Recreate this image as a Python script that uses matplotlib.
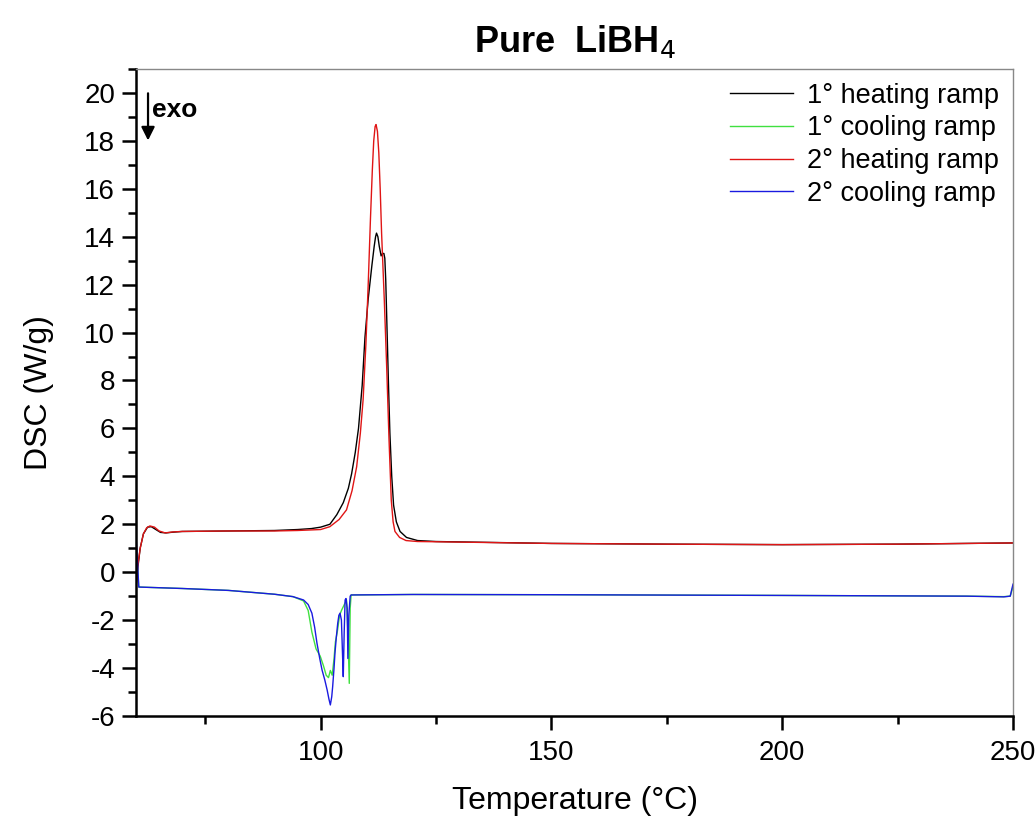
import numpy as np
import matplotlib
matplotlib.use('Agg')
import matplotlib.pyplot as plt
from matplotlib.ticker import MultipleLocator

plt.rcParams['font.family'] = ['Liberation Sans', 'DejaVu Sans']
plt.rcParams['axes.unicode_minus'] = False

# 1st heating ramp (black)
t_heat1 = [60, 60.4, 60.9, 61.6, 62.5, 63.3, 64.3, 65.3, 66.5, 68, 70, 80, 90, 95, 98,
           100, 102, 103.5, 104.9, 106, 106.7, 107.5, 108.2, 109, 109.6, 110.3, 111.1,
           111.6, 111.9, 112.1, 112.4, 112.7, 113.1, 113.4, 113.7, 113.9, 114.1, 114.4,
           114.7, 115.0, 115.4, 115.8, 116.4, 117.2, 118.6, 121, 125, 150, 175, 200, 225, 250]
dsc_heat1 = [-0.6, 0.2, 1.0, 1.6, 1.88, 1.9, 1.78, 1.66, 1.64, 1.67, 1.7, 1.72, 1.74, 1.78, 1.82,
             1.88, 2.0, 2.4, 2.9, 3.5, 4.1, 5.0, 6.0, 7.8, 9.8, 11.4, 12.8,
             13.6, 14.0, 14.15, 14.0, 13.6, 13.2, 13.3, 13.3, 13.1, 12.2, 10.0,
             7.8, 5.8, 4.0, 2.8, 2.1, 1.7, 1.45, 1.32, 1.28, 1.2, 1.17, 1.15, 1.17, 1.22]

# 1st cooling ramp (green)
t_cool1 = [60, 60.3, 60.6, 70, 80, 85, 90, 94, 96.3, 97.3, 98.1, 99.0, 99.9, 100.6, 101.2,
           101.7, 102.1, 102.5, 102.9, 103.2, 103.6, 104.1, 104.5, 105.0, 105.6, 105.9,
           106.2, 106.4, 106.6, 120, 150, 200, 240, 248, 249.4, 250]
dsc_cool1 = [1.2, 0.3, -0.62, -0.68, -0.76, -0.84, -0.92, -1.02, -1.2, -1.6, -2.5, -3.2, -3.5,
             -3.9, -4.3, -4.4, -4.1, -4.3, -3.6, -2.9, -2.5, -1.8, -1.6, -1.4, -1.16, -2.5,
             -4.64, -1.5, -0.95, -0.93, -0.94, -0.97, -1.0, -1.02, -1.0, -0.6]

# 2nd heating ramp (red)
t_heat2 = [60, 60.4, 60.9, 61.6, 62.3, 63.0, 64.0, 65.0, 66.3, 68, 70, 80, 90, 95, 100,
           102, 104, 105.6, 106.8, 107.8, 108.6, 109.2, 109.8, 110.3, 110.8, 111.2, 111.5,
           111.8, 112.0, 112.3, 112.6, 112.9, 113.2, 113.8, 114.3, 114.8, 115.3, 115.7, 116.1,
           117.1, 118.5, 121, 125, 150, 175, 200, 225, 250]
dsc_heat2 = [-0.6, 0.3, 1.0, 1.6, 1.85, 1.93, 1.88, 1.72, 1.64, 1.68, 1.7, 1.72, 1.72, 1.74, 1.78,
             1.9, 2.2, 2.6, 3.4, 4.4, 5.8, 7.2, 9.5, 12.0, 14.8, 16.8, 18.0,
             18.6, 18.68, 18.4, 17.5, 16.0, 14.16, 11.3, 8.6, 5.6, 3.0, 2.1, 1.7,
             1.45, 1.32, 1.28, 1.27, 1.2, 1.17, 1.15, 1.17, 1.22]

# 2nd cooling ramp (blue)
t_cool2 = [60, 60.3, 60.6, 70, 80, 85, 90, 94, 96.3, 97.3, 98.1, 98.7, 99.2, 99.8, 100.3,
           100.9, 101.4, 101.8, 102.1, 102.4, 102.6, 102.9, 103.1, 103.4, 103.7, 103.95,
           104.2, 104.5, 104.75, 104.9, 105.1, 105.3, 105.5, 105.75, 105.9, 106.1, 106.4,
           106.6, 120, 150, 200, 240, 248, 249.4, 250]
dsc_cool2 = [1.5, 0.5, -0.62, -0.68, -0.76, -0.84, -0.92, -1.02, -1.16, -1.35, -1.71, -2.3,
             -2.96, -3.6, -4.08, -4.5, -4.91, -5.3, -5.54, -5.2, -4.78, -4.0, -3.38, -2.7,
             -2.13, -1.8, -1.71, -2.0, -3.5, -4.36, -2.5, -1.16, -1.1, -1.5, -3.6, -1.8, -1.0,
             -0.95, -0.93, -0.94, -0.97, -1.0, -1.03, -1.0, -0.5]

labels = ['1° heating ramp', '1° cooling ramp', '2° heating ramp', '2° cooling ramp']

fig = plt.figure(figsize=(10.36, 8.19), dpi=100)
ax = fig.add_axes([0.1313, 0.1258, 0.8465, 0.79])

ax.plot(t_heat1, dsc_heat1, color='black', lw=1.0, label=labels[0])
ax.plot(t_cool1, dsc_cool1, color='#40e040', lw=1.0, label=labels[1])
ax.plot(t_heat2, dsc_heat2, color='#e01515', lw=1.0, label=labels[2])
ax.plot(t_cool2, dsc_cool2, color='#1a1ae0', lw=1.0, label=labels[3])

ax.set_xlim(60, 250)
ax.set_ylim(-6, 21)
ax.set_xticks([100, 150, 200, 250])
ax.xaxis.set_minor_locator(MultipleLocator(25))
ax.set_yticks(np.arange(-6, 21, 2))
ax.yaxis.set_minor_locator(MultipleLocator(1))
ax.tick_params(which='major', direction='out', length=10, width=1.8, labelsize=20, pad=5)
ax.tick_params(axis='x', which='major', pad=7)
ax.tick_params(which='minor', direction='out', length=6, width=1.8)

for s in ['left', 'bottom']:
    ax.spines[s].set_linewidth(1.8)
for s in ['top', 'right']:
    ax.spines[s].set_color('#888888')
    ax.spines[s].set_linewidth(1.0)

ax.set_xlabel('Temperature (°C)', fontsize=23, labelpad=15)
ax.set_ylabel('DSC (W/g)', fontsize=23, labelpad=22)
ax.set_title('Pure  LiBH$_4$', fontsize=26, fontweight='bold', pad=12)

ax.legend(loc='upper right', frameon=False, fontsize=19.5, handlelength=2.3,
          handletextpad=0.55, labelspacing=0.25, borderaxespad=0.1)

# exo arrow
ax.annotate('', xy=(62.6, 17.9), xytext=(62.6, 20.1),
            arrowprops=dict(arrowstyle='-|>', color='black', lw=1.6, mutation_scale=20))
ax.text(63.5, 19.3, 'exo', fontsize=19, fontweight='bold', va='center', ha='left')

fig.savefig('out.png', dpi=100)
